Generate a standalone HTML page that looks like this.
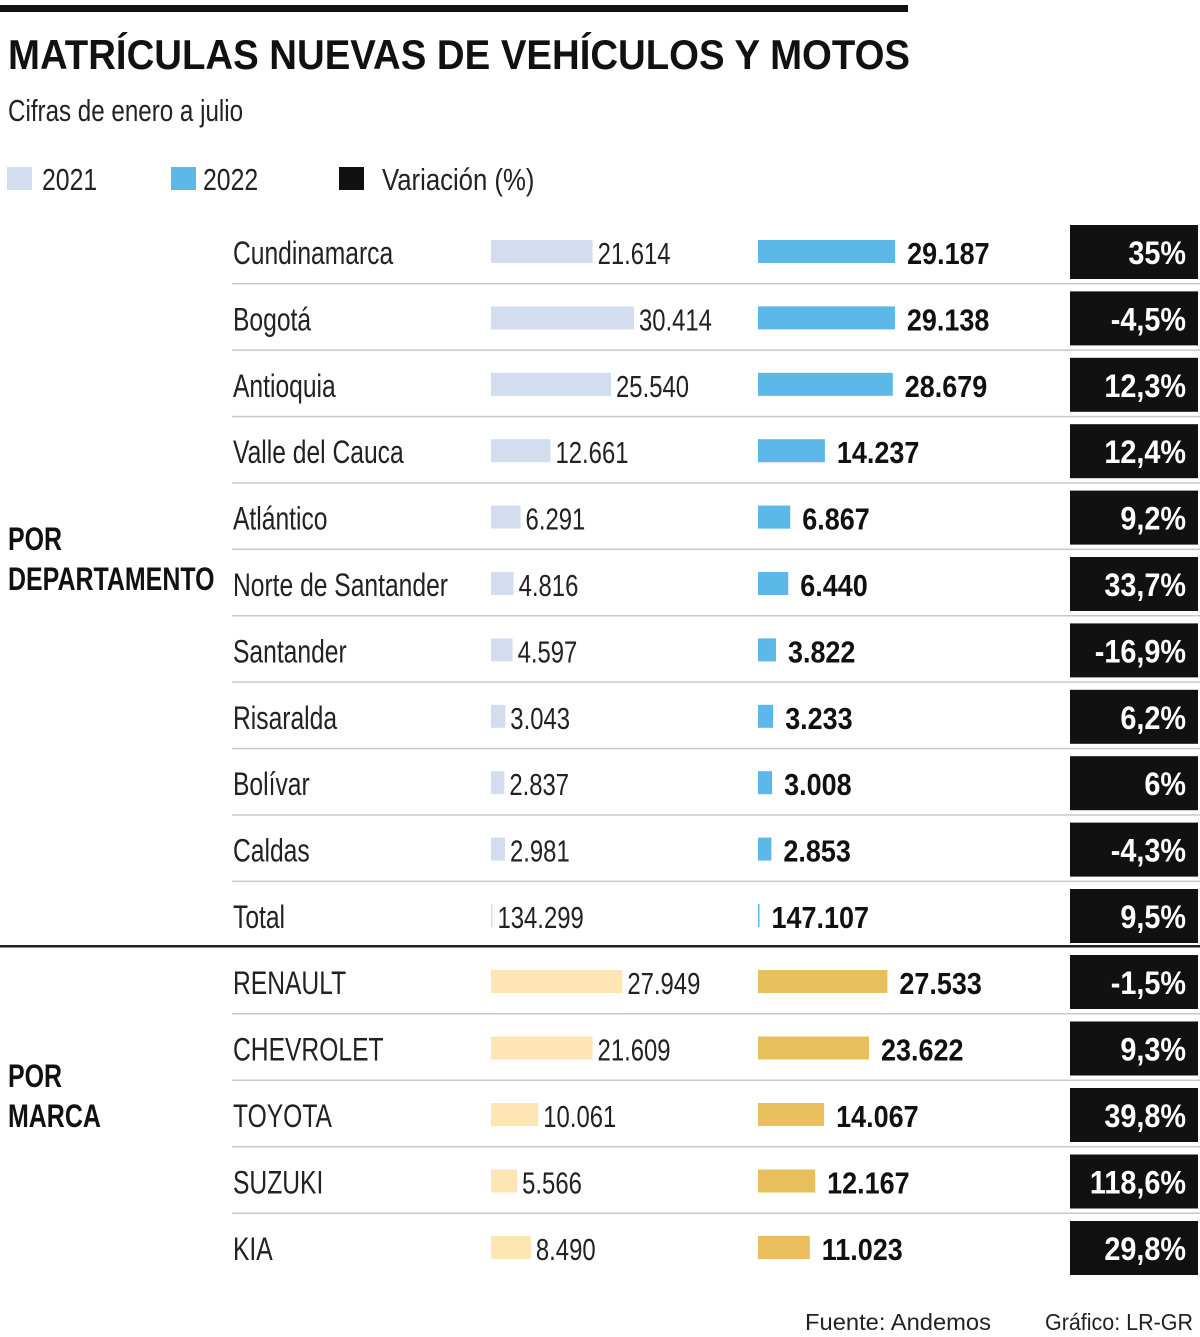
<!DOCTYPE html>
<html><head><meta charset="utf-8"><style>
body{margin:0;background:#fff;}
svg{display:block;font-family:"Liberation Sans",sans-serif;}
</style></head><body>
<svg id="c" width="1200" height="1337">
<rect x="0" y="5" width="908" height="7" fill="#111"/>
<text x="8" y="69" font-size="42" font-weight="bold" textLength="902" lengthAdjust="spacingAndGlyphs" fill="#111">MATRÍCULAS NUEVAS DE VEHÍCULOS Y MOTOS</text>
<text x="8" y="121" font-size="31" fill="#222" transform="translate(8,0) scale(0.78,1) translate(-8,0)">Cifras de enero a julio</text>
<g>
<rect x="7" y="167" width="25" height="23" fill="#d4ddf0"/>
<text x="42" y="190" font-size="31" fill="#222" transform="translate(42,0) scale(0.8,1) translate(-42,0)">2021</text>
<rect x="171" y="167" width="25" height="23" fill="#5bb8e8"/>
<text x="203" y="190" font-size="31" fill="#222" transform="translate(203,0) scale(0.8,1) translate(-203,0)">2022</text>
<rect x="339" y="167" width="25" height="23" fill="#111"/>
<text x="382" y="190" font-size="31" fill="#222" transform="translate(382,0) scale(0.83,1) translate(-382,0)">Variación (%)</text>
</g>
<text x="8" y="550" font-size="32" font-weight="bold" fill="#111" transform="translate(8,0) scale(0.78,1) translate(-8,0)"><tspan x="8">POR</tspan><tspan x="8" dy="40">DEPARTAMENTO</tspan></text>
<text x="8" y="1087" font-size="32" font-weight="bold" fill="#111" transform="translate(8,0) scale(0.78,1) translate(-8,0)"><tspan x="8">POR</tspan><tspan x="8" dy="40">MARCA</tspan></text>
<rect x="0" y="945" width="1200" height="2.5" fill="#222"/>
<text x="805" y="1330" font-size="23" fill="#222" textLength="186" lengthAdjust="spacingAndGlyphs">Fuente: Andemos</text>
<text x="1045" y="1330" font-size="23" fill="#222" textLength="148" lengthAdjust="spacingAndGlyphs">Gráfico: LR-GR</text>
<g id="rows"></g>
</svg>
<script>
const categories=["Cundinamarca","Bogotá","Antioquia","Valle del Cauca","Atlántico","Norte de Santander","Santander","Risaralda","Bolívar","Caldas","Total","RENAULT","CHEVROLET","TOYOTA","SUZUKI","KIA"];
const values2021=[21614,30414,25540,12661,6291,4816,4597,3043,2837,2981,134299,27949,21609,10061,5566,8490];
const values2022=[29187,29138,28679,14237,6867,6440,3822,3233,3008,2853,147107,27533,23622,14067,12167,11023];
const variation=["35%","-4,5%","12,3%","12,4%","9,2%","33,7%","-16,9%","6,2%","6%","-4,3%","9,5%","-1,5%","9,3%","39,8%","118,6%","29,8%"];
const fmt=v=>v.toLocaleString('de-DE');
const ns="http://www.w3.org/2000/svg";
const g=document.getElementById('rows');
const scale=v=>v*0.0047;
function mk(tag,attrs,txt){const e=document.createElementNS(ns,tag);for(const k in attrs)e.setAttribute(k,attrs[k]);if(txt!==undefined)e.textContent=txt;g.appendChild(e);return e;}
function sq(e,x,s){e.setAttribute('transform',`translate(${x},0) scale(${s||0.78},1) translate(${-x},0)`);}
categories.forEach((c,i)=>{
  const cy = i<11 ? 251+i*66.4 : 981+(i-11)*66.5;
  const brand=i>=11, total=c==="Total";
  const c1=brand?"#fde6b4":"#d4ddf0", c2=brand?"#e8bf5c":"#5bb8e8";
  if(i<10||(i>=11&&i<15)){
    const l=mk('rect',{x:232,y:cy+32,width:968,height:1.5,fill:"#c8c8c8"});
    
    
  }
  const lab=mk('text',{x:233,y:cy+13,'font-size':32,fill:'#222'},c);
  sq(lab,233,0.77);
  
  
  const w1=total?1.5:scale(values2021[i]), w2=total?1.5:scale(values2022[i]);
  const b1=mk('rect',{x:491,y:cy-11,width:w1,height:23,fill:c1});
  
  
  const x1=491+w1+5;
  const t1=mk('text',{x:x1,y:cy+13,'font-size':31,fill:'#222'},fmt(values2021[i]));
  sq(t1,x1,0.77);
  
  
  const b2=mk('rect',{x:758,y:cy-11,width:w2,height:23,fill:c2});
  
  
  const x2=758+w2+12;
  const t2=mk('text',{x:x2,y:cy+13,'font-size':31,'font-weight':'bold',fill:'#111'},fmt(values2022[i]));
  sq(t2,x2,0.87);
  
  
  const bx=mk('rect',{x:1070,y:cy-26,width:128,height:54,fill:'#111'});
  
  
  const tv=mk('text',{x:1186,y:cy+13,'font-size':32,'font-weight':'bold',fill:'#fff','text-anchor':'end'},variation[i]);
  sq(tv,1186,0.9);
  
  
});
</script>
</body></html>
